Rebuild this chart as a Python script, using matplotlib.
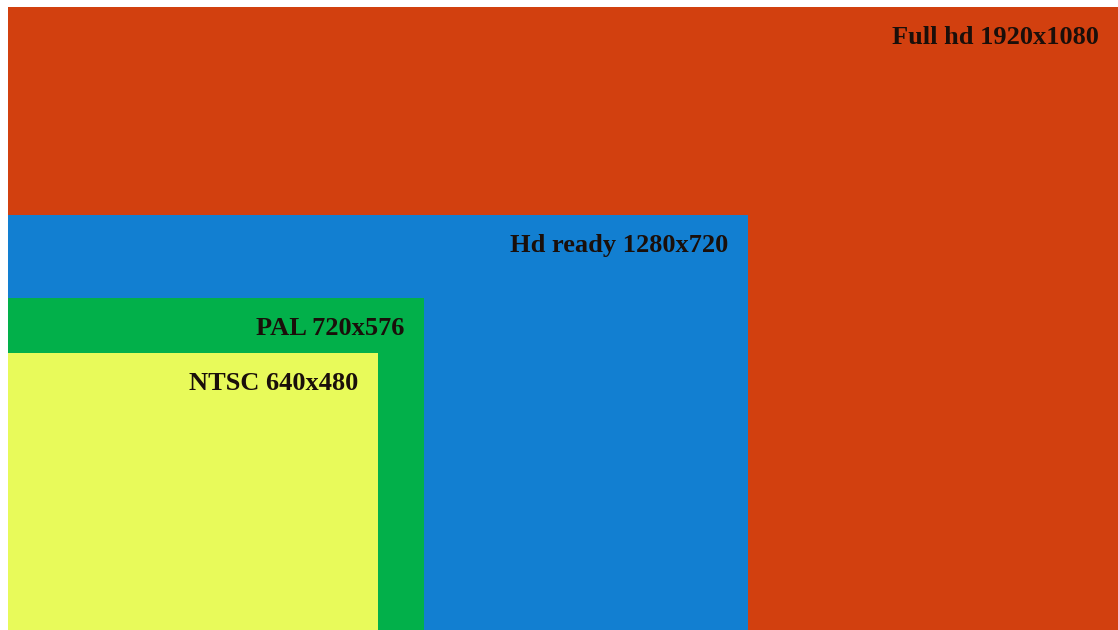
import matplotlib.pyplot as plt
from matplotlib.patches import Rectangle

names = ["Full hd", "Hd ready", "PAL", "NTSC"]
widths = [1920, 1280, 720, 640]
heights = [1080, 720, 576, 480]
colors = ['#d2400f', '#127fd1', '#02b04a', '#e8fa5a']

fig = plt.figure(figsize=(11.18, 6.30), dpi=100)
ax = fig.add_axes([8/1118, 0, 1110/1118, 623/630])
ax.set_xlim(0, 1920)
ax.set_ylim(0, 1080)
ax.axis('off')

for name, w, h, c in zip(names, widths, heights, colors):
    ax.add_patch(Rectangle((0, 0), w, h, facecolor=c, edgecolor='none'))
    ax.annotate(f"{name} {w}x{h}", xy=(w, h), xytext=(-14, -22),
                textcoords='offset points', ha='right', va='center',
                fontsize=19, fontweight='bold', family='Liberation Serif',
                color='#1a0f0a')

fig.savefig('out.png', dpi=100)
